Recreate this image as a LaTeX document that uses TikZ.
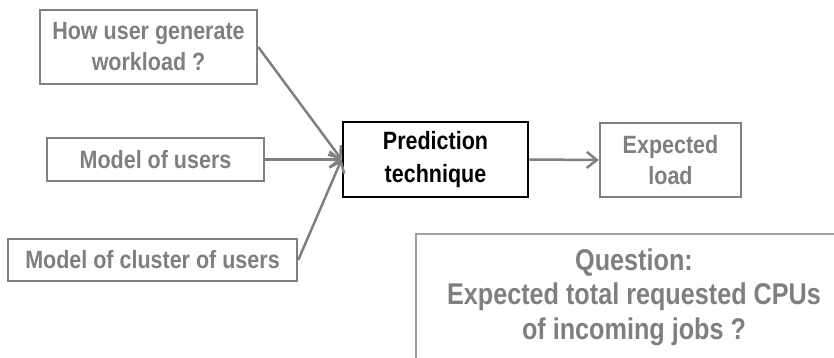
\documentclass[tikz,border=0pt]{standalone}
\usepackage{fontspec}
\usetikzlibrary{arrows.meta}
\newfontfamily\boxfont{Liberation Sans}[FakeStretch=0.86]
\newfontfamily\qfont{Liberation Sans}[FakeStretch=0.84]
\definecolor{boxgray}{RGB}{128,128,128}
\definecolor{textgray}{RGB}{127,127,127}
\definecolor{framegray}{RGB}{160,160,160}
\tikzset{
  gbox/.style={draw=boxgray, line width=2.5pt, inner sep=0pt, align=center,
    text=textgray, font=\boxfont\bfseries\fontsize{25}{31}\selectfont},
  kbox/.style={draw=black, line width=2.8pt, inner sep=0pt, align=center,
    text=black, font=\boxfont\bfseries\fontsize{25}{33}\selectfont},
  conn/.style={draw=boxgray, line width=2.5pt, -{Straight Barb[length=10pt,width=16pt]}},
  qtext/.style={inner sep=0pt, align=center, text=textgray,
    font=\qfont\bfseries\fontsize{30}{34.5}\selectfont},
  qframe/.style={draw=framegray, line width=1.5pt}
}
\begin{document}
\begin{tikzpicture}[x=1pt,y=-1pt]
\useasboundingbox (0,0) rectangle (834,358);
\node[gbox, minimum width=217pt, minimum height=74pt] (b1) at (148.5,47) {How user generate\\workload ?};
\node[gbox, minimum width=217pt, minimum height=43pt] (b2) at (155.5,159.5) {Model of users};
\node[gbox, minimum width=289pt, minimum height=42pt] (b3) at (152.5,260) {Model of cluster of users};
\node[kbox, minimum width=185pt, minimum height=75pt] (pred) at (435.5,159.5) {Prediction\\technique};
\node[gbox, minimum width=141pt, minimum height=74pt] (exp) at (670.5,160) {Expected\\load};
\node[qtext] (q) at (634,297) {Question:\\Expected total requested CPUs\\of incoming jobs ?};
\coordinate (qtl) at (416,234);
\coordinate (qtr) at (834,234);
\coordinate (qbl) at (416,358);
\draw[qframe] (qbl) -- (qtl) -- (qtr);
\draw[conn] (b1.east) -- (pred.west);
\draw[conn] (b2.east) -- (pred.west);
\draw[conn] (b3.east) -- (pred.west);
\draw[conn] (pred.east) -- (exp.west);
\end{tikzpicture}
\end{document}
